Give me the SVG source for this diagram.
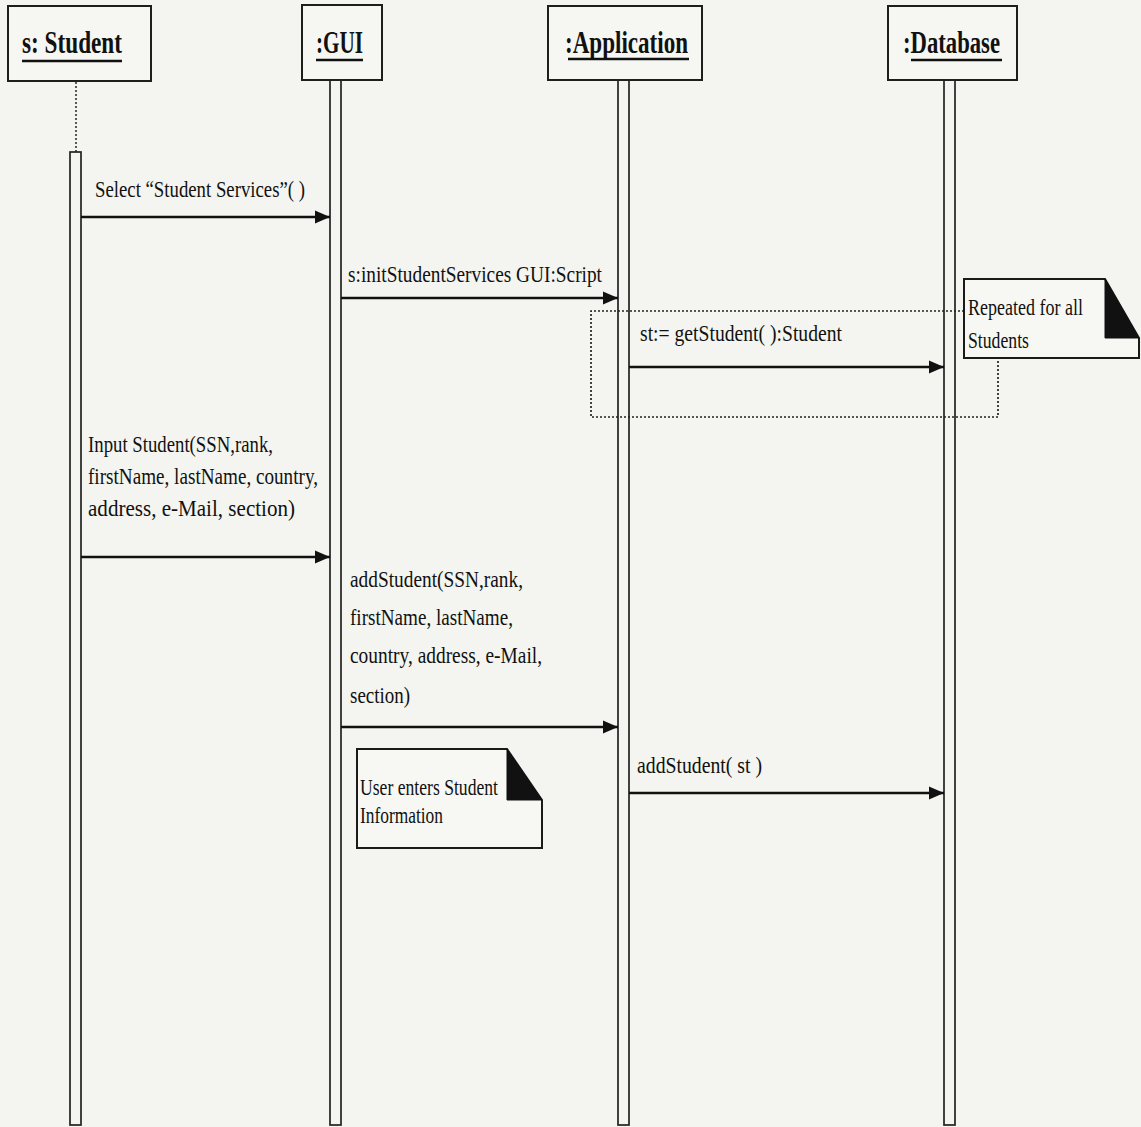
<svg xmlns="http://www.w3.org/2000/svg" width="1141" height="1127" viewBox="0 0 1141 1127">
<style>
.box{fill:#f6f7f2;stroke:#1e1e1e;stroke-width:2}
.life{fill:none;stroke:#222;stroke-width:1.7}
.title{font-family:"Liberation Serif",serif;font-size:32px;font-weight:bold;fill:#111}
.ul{stroke:#111;stroke-width:2.4}
.msg{font-family:"Liberation Serif",serif;font-size:24px;fill:#111}
.arrow{stroke:#111;stroke-width:2.4;fill:none;marker-end:url(#ah)}
.dot{fill:none;stroke:#222;stroke-width:1.7;stroke-dasharray:2 2}
.note{fill:#f7f8f3;stroke:#1a1a1a;stroke-width:2}
.ear{fill:#111;stroke:#111;stroke-width:1}
</style>
<defs>
<marker id="ah" markerUnits="userSpaceOnUse" markerWidth="16" markerHeight="16" refX="15" refY="8" orient="auto">
<path d="M0,1.5 L15,8 L0,14.5 z" fill="#111"/>
</marker>
</defs>
<rect x="0" y="0" width="1141" height="1127" fill="#f4f5f0"/>

<g id="student">
<rect class="box" x="8" y="6" width="143" height="75"/>
<text class="title" x="22" y="53" textLength="100" lengthAdjust="spacingAndGlyphs">s: Student</text>
<line class="ul" x1="22" y1="61" x2="122" y2="61"/>
<line x1="76" y1="82" x2="76" y2="152" stroke="#333" stroke-width="1.6" stroke-dasharray="2 2"/>
<rect class="life" x="70" y="152" width="11" height="973"/>
</g>

<g id="gui">
<rect class="box" x="302" y="5" width="80" height="75"/>
<text class="title" x="316" y="53" textLength="47" lengthAdjust="spacingAndGlyphs">:GUI</text>
<line class="ul" x1="316" y1="60" x2="363" y2="60"/>
<rect class="life" x="330" y="80" width="11" height="1045"/>
</g>

<g id="application">
<rect class="box" x="548" y="6" width="154" height="74"/>
<text class="title" x="565" y="53" textLength="123" lengthAdjust="spacingAndGlyphs">:Application</text>
<line class="ul" x1="568" y1="59" x2="689" y2="59"/>
<rect class="life" x="618" y="80" width="11" height="1045"/>
</g>

<g id="database">
<rect class="box" x="888" y="6" width="129" height="74"/>
<text class="title" x="903" y="53" textLength="97" lengthAdjust="spacingAndGlyphs">:Database</text>
<line class="ul" x1="911" y1="60" x2="1002" y2="60"/>
<rect class="life" x="944" y="80" width="11" height="1045"/>
</g>

<g id="loop">
<path class="dot" d="M964,311 H591 V417 H998 V358"/>
</g>

<g id="note-repeated">
<path class="note" d="M964,279 H1105 L1139,338 V358 H964 Z"/>
<path class="ear" d="M1105,279 V338 H1139 Z"/>
<text class="msg" x="968" y="315" textLength="115" lengthAdjust="spacingAndGlyphs">Repeated for all</text>
<text class="msg" x="968" y="348" textLength="61" lengthAdjust="spacingAndGlyphs">Students</text>
</g>

<g id="note-user">
<path class="note" d="M357,749 H507 L542,800 V848 H357 Z"/>
<path class="ear" d="M507,749 V800 H542 Z"/>
<text class="msg" x="360" y="795" textLength="138" lengthAdjust="spacingAndGlyphs">User enters Student</text>
<text class="msg" x="360" y="823" textLength="83" lengthAdjust="spacingAndGlyphs">Information</text>
</g>

<g id="connectors">
<line class="arrow" x1="81" y1="217" x2="330" y2="217"/>
<text class="msg" x="95" y="197" textLength="210" lengthAdjust="spacingAndGlyphs">Select “Student Services”( )</text>

<line class="arrow" x1="341" y1="298" x2="618" y2="298"/>
<text class="msg" x="348" y="282" textLength="254" lengthAdjust="spacingAndGlyphs">s:initStudentServices  GUI:Script</text>

<line class="arrow" x1="629" y1="367" x2="944" y2="367"/>
<text class="msg" x="640" y="341" textLength="202" lengthAdjust="spacingAndGlyphs">st:= getStudent( ):Student</text>

<line class="arrow" x1="81" y1="557" x2="330" y2="557"/>
<text class="msg" x="88" y="452" textLength="185" lengthAdjust="spacingAndGlyphs">Input Student(SSN,rank,</text>
<text class="msg" x="88" y="484" textLength="230" lengthAdjust="spacingAndGlyphs">firstName, lastName, country,</text>
<text class="msg" x="88" y="516" textLength="207" lengthAdjust="spacingAndGlyphs">address, e-Mail, section)</text>

<line class="arrow" x1="341" y1="727" x2="618" y2="727"/>
<text class="msg" x="350" y="587" textLength="173" lengthAdjust="spacingAndGlyphs">addStudent(SSN,rank,</text>
<text class="msg" x="350" y="625" textLength="163" lengthAdjust="spacingAndGlyphs">firstName, lastName,</text>
<text class="msg" x="350" y="663" textLength="192" lengthAdjust="spacingAndGlyphs">country, address, e-Mail,</text>
<text class="msg" x="350" y="703" textLength="60" lengthAdjust="spacingAndGlyphs">section)</text>

<line class="arrow" x1="629" y1="793" x2="944" y2="793"/>
<text class="msg" x="637" y="773" textLength="125" lengthAdjust="spacingAndGlyphs">addStudent( st )</text>
</g>
</svg>
